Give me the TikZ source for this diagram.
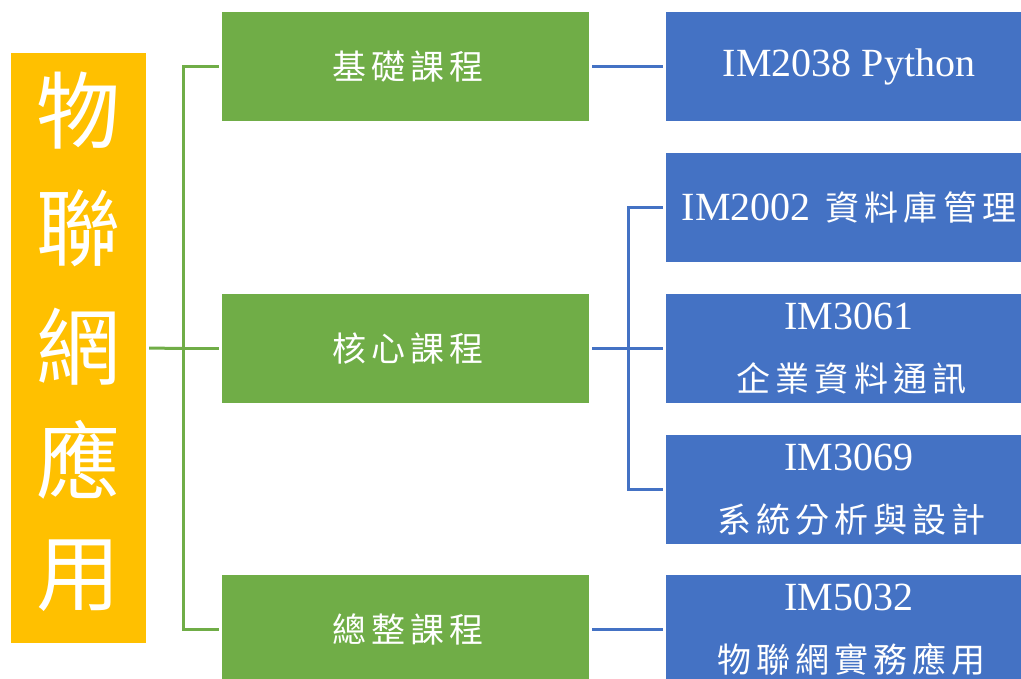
\documentclass[tikz,border=0pt]{standalone}
\usepackage{fontspec}
\setmainfont{Liberation Serif}
\newfontfamily\cjk[LetterSpace=15]{Noto Sans CJK TC}
\newfontfamily\cjkbig{Noto Sans CJK TC}
\definecolor{cyellow}{HTML}{FFC000}
\definecolor{cgreen}{HTML}{70AD47}
\definecolor{cblue}{HTML}{4472C4}
\tikzset{
  ybox/.style={fill=cyellow, draw=none, minimum width=135pt, minimum height=590pt, inner sep=0pt},
  ychar/.style={text=white, font=\cjkbig\fontsize{84}{84}\selectfont, inner sep=0pt},
  gbox/.style={fill=cgreen, draw=none, minimum width=367pt, minimum height=109pt, inner sep=0pt, text=white, font=\fontsize{40}{62}\selectfont, align=center},
  bbox/.style={fill=cblue, draw=none, minimum width=366pt, minimum height=109pt, inner sep=0pt, text=white, font=\fontsize{40}{62}\selectfont, align=center},
  gline/.style={draw=cgreen, line width=3pt, shorten <=3pt, shorten >=3pt},
  bline/.style={draw=cblue, line width=3pt, shorten <=3pt, shorten >=3pt},
}
\newcommand{\zh}[1]{{\cjk\fontsize{34}{62}\selectfont\kern5pt #1}}
\begin{document}
\begin{tikzpicture}[x=1pt,y=-1pt]
\useasboundingbox (0,0) rectangle (1021,679);
\clip (0,0) rectangle (1021,679);
\fill[white] (0,0) rectangle (1021,679);
% main
\node[ybox] (Y) at (78.5,348) {};
\node[ychar] (y1) at (78.5,111) {物};
\node[ychar] (y2) at (78.5,228) {聯};
\node[ychar] (y3) at (78.5,347) {網};
\node[ychar] (y4) at (78.5,460) {應};
\node[ychar] (y5) at (78.5,576) {用};
% green
\node[gbox] (G1) at (405.5,66.5) {\zh{基礎課程}};
\node[gbox] (G2) at (405.5,348.5) {\zh{核心課程}};
\node[gbox] (G3) at (405.5,629.5) {\zh{總整課程}};
% blue
\node[bbox] (B1) at (849,66.5) {IM2038 Python};
\node[bbox] (B2) at (849,207.5) {IM2002 \zh{資料庫管理}};
\node[bbox] (B3) at (849,348.5) {IM3061\\\zh{企業資料通訊}};
\node[bbox] (B4) at (849,489.5) {IM3069\\\zh{系統分析與設計}};
\node[bbox] (B5) at (849,629.5) {IM5032\\\zh{物聯網實務應用}};
% green connectors
\coordinate (gj) at (183,348.5);
\draw[gline, shorten >=0pt] (Y.east) -- (gj);
\draw[gline] (G1.west) -| (gj) |- (G3.west);
\draw[gline, shorten <=0pt] (gj) -- (G2.west);
% blue connectors
\coordinate (bj) at (628,348.5);
\draw[bline] (G1.east) -- (B1.west);
\draw[bline, shorten >=0pt] (G2.east) -- (bj);
\draw[bline] (B2.west) -| (bj) |- (B4.west);
\draw[bline, shorten <=0pt] (bj) -- (B3.west);
\draw[bline] (G3.east) -- (B5.west);
\end{tikzpicture}
\end{document}
